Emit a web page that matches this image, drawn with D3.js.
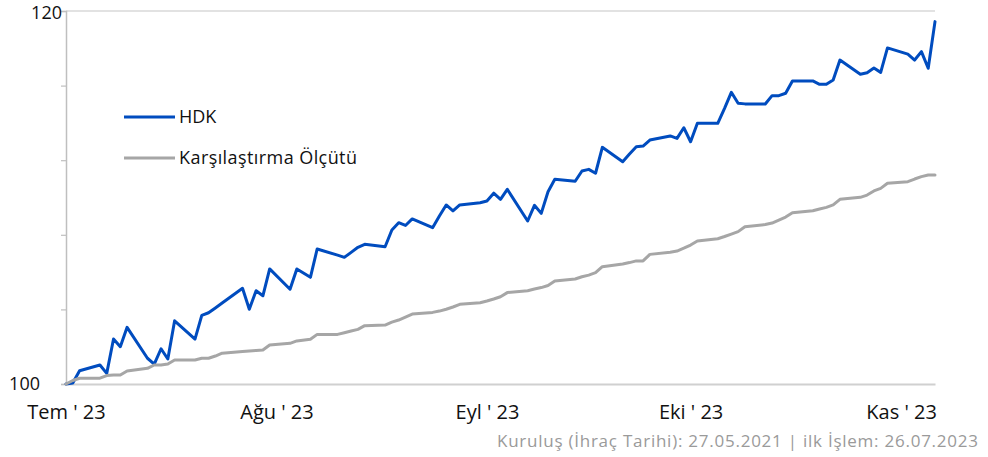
<!DOCTYPE html>
<html>
<head>
<meta charset="utf-8">
<script src="https://cdn.jsdelivr.net/npm/d3@7"></script>
<style>
  html, body { margin: 0; padding: 0; background: #fff; }
  svg { display: block; }
  text { font-family: "Open Sans", "Noto Sans", sans-serif; }
</style>
</head>
<body>
<svg id="chart" width="988" height="457"></svg>
<script>
// ---------- DATA ----------
const dates = [
  "2023-07-26","2023-07-27","2023-07-28","2023-07-31",
  "2023-08-01","2023-08-02","2023-08-03","2023-08-04","2023-08-07","2023-08-08","2023-08-09","2023-08-10","2023-08-11",
  "2023-08-14","2023-08-15","2023-08-16","2023-08-17","2023-08-18","2023-08-21","2023-08-22","2023-08-23","2023-08-24","2023-08-25",
  "2023-08-28","2023-08-29","2023-08-31",
  "2023-09-01","2023-09-04","2023-09-05","2023-09-06","2023-09-07","2023-09-08","2023-09-11","2023-09-12","2023-09-13","2023-09-14","2023-09-15",
  "2023-09-18","2023-09-19","2023-09-20","2023-09-21","2023-09-22","2023-09-25","2023-09-26","2023-09-27","2023-09-28","2023-09-29",
  "2023-10-02","2023-10-03","2023-10-04","2023-10-05","2023-10-06","2023-10-09","2023-10-10","2023-10-11","2023-10-12","2023-10-13",
  "2023-10-16","2023-10-17","2023-10-18","2023-10-19","2023-10-20","2023-10-23","2023-10-24","2023-10-25","2023-10-26","2023-10-27",
  "2023-10-30","2023-10-31",
  "2023-11-01","2023-11-02","2023-11-03","2023-11-06","2023-11-07","2023-11-08","2023-11-09","2023-11-10","2023-11-13","2023-11-14",
  "2023-11-15","2023-11-16","2023-11-17","2023-11-20","2023-11-21","2023-11-22","2023-11-23","2023-11-24","2023-11-27","2023-11-28",
  "2023-11-29","2023-11-30",
  "2023-12-01"
];

const hdk = [
  100.00,100.05,100.71,101.02,
  100.57,102.41,102.00,103.04,101.38,101.07,101.89,101.34,103.39,
  102.41,103.68,103.82,104.08,104.34,105.13,104.01,105.00,104.73,106.17,
  105.08,106.17,105.72,
  107.24,106.91,106.79,107.06,107.33,107.49,107.36,108.26,108.65,108.50,108.85,
  108.38,109.01,109.60,109.28,109.60,109.72,109.81,110.23,109.90,110.44,
  108.74,109.58,109.15,110.31,110.98,110.87,111.42,111.51,111.30,112.69,
  111.92,112.33,112.72,112.76,113.08,113.30,113.17,113.74,112.99,113.98,
  113.98,114.78,
  115.64,115.05,115.02,115.01,115.46,115.46,115.59,116.25,116.25,116.07,
  116.07,116.30,117.37,116.61,116.69,116.94,116.71,118.02,117.69,117.37,
  117.82,116.93,
  119.43
];

const benchmark = [
  100.00,100.19,100.31,100.31,
  100.45,100.48,100.48,100.70,100.84,101.02,101.02,101.07,101.29,
  101.29,101.38,101.38,101.50,101.65,101.74,101.77,101.80,101.82,102.09,
  102.18,102.31,102.40,
  102.66,102.66,102.75,102.84,102.93,103.13,103.16,103.32,103.43,103.59,103.75,
  103.84,103.91,104.01,104.13,104.27,104.36,104.45,104.56,104.68,104.90,
  105.00,105.09,105.17,105.28,105.52,105.63,105.75,105.84,105.97,106.29,
  106.43,106.51,106.60,106.60,106.95,107.06,107.13,107.28,107.45,107.67,
  107.79,107.91,
  108.04,108.17,108.43,108.55,108.63,108.79,108.95,109.18,109.29,109.38,
  109.47,109.60,109.90,110.01,110.13,110.35,110.49,110.76,110.85,110.99,
  111.12,111.21,
  111.21
];

const seriesNames = ["HDK", "Karşılaştırma Ölçütü"];
const xTickDates = ["2023-07-26","2023-08-26","2023-09-26","2023-10-26","2023-11-26"];
const xTickLabels = ["Tem ' 23","Ağu ' 23","Eyl ' 23","Eki ' 23","Kas ' 23"];
const yTicks = [100, 104, 108, 112, 116, 120];
const yLabelled = [100, 120];
const footer = "Kuruluş (İhraç Tarihi): 27.05.2021 | ilk İşlem: 26.07.2023";

// ---------- CHART ----------
const svg = d3.select("#chart");
const parse = d3.timeParse("%Y-%m-%d");
const xDates = dates.map(parse);

const x = d3.scaleTime()
  .domain([parse("2023-07-26"), parse("2023-12-01")])
  .range([66, 935]);
const y = d3.scaleLinear().domain([100, 120]).range([384, 11]);

const colors = ["#004cbf", "#a6a6a6"];

// top line (120 level)
svg.append("line")
  .attr("x1", x.range()[0]).attr("x2", x.range()[1])
  .attr("y1", y(120)).attr("y2", y(120))
  .attr("stroke", "#d9d9d9").attr("stroke-width", 1.5);

// Y axis
const yAxis = d3.axisLeft(y)
  .tickValues(yTicks)
  .tickSize(5)
  .tickFormat(d => yLabelled.includes(d) ? String(d) : "");
const gy = svg.append("g").attr("transform", `translate(${x.range()[0]},0)`).call(yAxis);
gy.select(".domain").attr("stroke", "#bfbfbf").attr("stroke-width", 1.5);
gy.selectAll(".tick line").attr("stroke", "#bfbfbf").attr("stroke-width", 1.2);
gy.selectAll(".tick text")
  .attr("font-size", 18)
  .attr("fill", "#111")
  .attr("font-family", "'Open Sans', sans-serif")
  .attr("x", d => d === 100 ? -26 : -4)
  .attr("dy", d => d === 120 ? "0.42em" : "0.32em");

// X axis
const xAxis = d3.axisBottom(x)
  .tickValues(xTickDates.map(parse))
  .tickSize(0)
  .tickPadding(21)
  .tickFormat((d, i) => xTickLabels[i]);
const gx = svg.append("g").attr("transform", `translate(0,${y(100)})`).call(xAxis);
gx.select(".domain").attr("stroke", "#d0d0d0").attr("stroke-width", 2);
gx.selectAll(".tick text")
  .attr("font-size", 20)
  .attr("fill", "#111")
  .attr("font-family", "'Open Sans', sans-serif");

// lines
const line = d3.line()
  .x((d, i) => x(xDates[i]))
  .y(d => y(d));

[hdk, benchmark].forEach((s, k) => {
  svg.append("path")
    .datum(s)
    .attr("d", line)
    .attr("fill", "none")
    .attr("stroke", colors[k])
    .attr("stroke-width", 3)
    .attr("stroke-linejoin", "round")
    .attr("stroke-linecap", "round");
});

// legend
const legendY = [117, 158];
const legendLen = [null, 178];
seriesNames.forEach((name, k) => {
  svg.append("line")
    .attr("x1", 124).attr("x2", 175)
    .attr("y1", legendY[k]).attr("y2", legendY[k])
    .attr("stroke", colors[k]).attr("stroke-width", 3);
  const t = svg.append("text")
    .attr("x", 179).attr("y", legendY[k])
    .attr("dy", "0.35em")
    .attr("font-size", 18)
    .attr("fill", "#111")
    .text(name);
  if (legendLen[k]) t.attr("textLength", legendLen[k]).attr("lengthAdjust", "spacing");
});

// footer
svg.append("text")
  .attr("x", 978).attr("y", 441)
  .attr("dy", "0.35em")
  .attr("text-anchor", "end")
  .attr("font-size", 17)
  .attr("textLength", 481)
  .attr("lengthAdjust", "spacing")
  .attr("fill", "#9a9a9a")
  .text(footer);
</script>
</body>
</html>
